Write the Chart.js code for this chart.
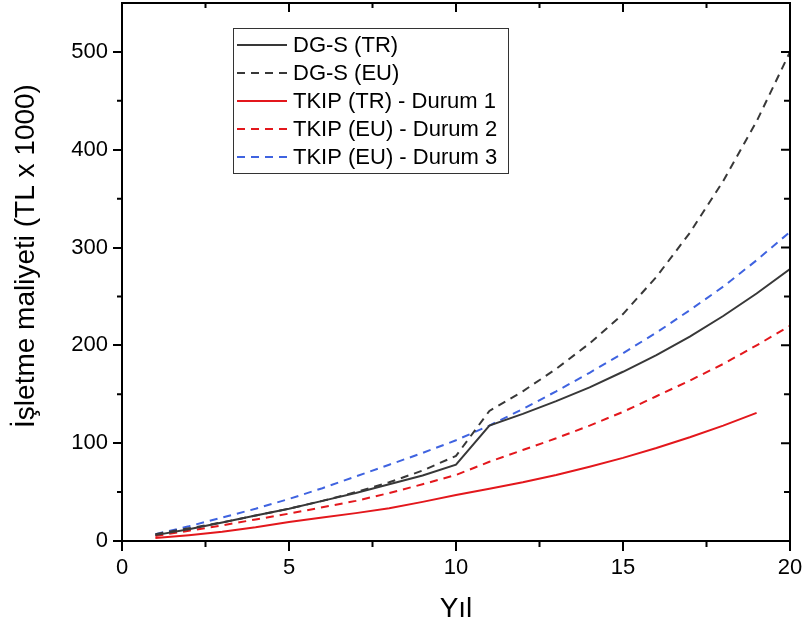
<!DOCTYPE html>
<html><head><meta charset="utf-8">
<script src="https://cdn.jsdelivr.net/npm/chart.js@4/dist/chart.umd.min.js"></script>
<style>html,body{margin:0;padding:0;background:#fff}</style>
</head><body>
<canvas id="c" width="802" height="630"></canvas>
<script>
const years = [1,2,3,4,5,6,7,8,9,10,11,12,13,14,15,16,17,18,19,20];
const dgsTR   = [6,12,19,26,33,41,49,58,67,78,118,130,143,157,173,190,209,230,253,278];
const dgsEU   = [7,13,19,26,33,41,50,60,72,87,133,153,176,202,232,270,315,368,429,500];
const tkipTR1 = [3,6,9.5,14,19.5,24,28.5,33.5,40,47,53.5,60,67.5,76,85,95,106,118,131];
const tkipEU2 = [5,10.5,16,22,28,34.5,41,49,58,67.5,81,93,105,118,132,148,164,181,200,220];
const tkipEU3 = [7,15,24,33,43,54,66,78,90,103,118,135,153,172,192,213,236,260,287,316];
const seriesNames = ['DG-S (TR)','DG-S (EU)','TKIP (TR) - Durum 1','TKIP (EU) - Durum 2','TKIP (EU) - Durum 3'];
const xTicks = [0,5,10,15,20];
const xMinor = [2.5,7.5,12.5,17.5];
const yTicks = [0,100,200,300,400,500];
const yMinor = [50,150,250,350,450];
const xTitle = 'Yıl';
const yTitle = 'İşletme maliyeti (TL x 1000)';

const GRAY = '#383838', RED = '#e3171c', BLUE = '#3f63e0';
const DASH = [8,6];
const pts = arr => arr.map((v,i)=>({x:years[i], y:v}));
const FONT = '"Liberation Sans", Arial, sans-serif';

const extras = {
  id:'extras',
  afterDraw(chart){
    const ctx = chart.ctx, a = chart.chartArea;
    const xs = chart.scales.x, ys = chart.scales.y;
    ctx.save();
    ctx.strokeStyle = '#000'; ctx.lineWidth = 2;
    ctx.beginPath();
    ctx.moveTo(a.left-1, a.top); ctx.lineTo(a.right+1, a.top);
    ctx.moveTo(a.right, a.top); ctx.lineTo(a.right, a.bottom);
    xMinor.forEach(v=>{const p=xs.getPixelForValue(v); ctx.moveTo(p,a.bottom); ctx.lineTo(p,a.bottom+6);});
    yMinor.forEach(v=>{const p=ys.getPixelForValue(v); ctx.moveTo(a.left,p); ctx.lineTo(a.left-5,p);});
    xTicks.forEach(v=>{const p=xs.getPixelForValue(v); ctx.moveTo(p,a.top); ctx.lineTo(p,a.top+9);});
    xMinor.forEach(v=>{const p=xs.getPixelForValue(v); ctx.moveTo(p,a.top); ctx.lineTo(p,a.top+5);});
    yTicks.forEach(v=>{const p=ys.getPixelForValue(v); ctx.moveTo(a.right,p); ctx.lineTo(a.right-9,p);});
    yMinor.forEach(v=>{const p=ys.getPixelForValue(v); ctx.moveTo(a.right,p); ctx.lineTo(a.right-6,p);});
    ctx.stroke();

    // y axis title
    ctx.save();
    ctx.translate(26, 256);
    ctx.rotate(-Math.PI/2);
    ctx.font = '28px ' + FONT; ctx.fillStyle = '#000';
    ctx.textAlign = 'center'; ctx.textBaseline = 'middle';
    ctx.fillText(yTitle, 0, 0);
    ctx.restore();

    // legend
    const bx = 233, by = 28, bw = 275, bh = 145;
    ctx.fillStyle = '#fff'; ctx.fillRect(bx,by,bw,bh);
    ctx.lineWidth = 1; ctx.strokeStyle = '#333';
    ctx.strokeRect(bx+0.5,by+0.5,bw,bh);
    ctx.font = '22px ' + FONT; ctx.textBaseline = 'middle'; ctx.textAlign = 'left'; ctx.fillStyle = '#000';
    chart.data.datasets.forEach((ds,i)=>{
      const y = 45 + i*28;
      ctx.strokeStyle = ds.borderColor; ctx.lineWidth = 2;
      ctx.setLineDash(ds.borderDash || []);
      ctx.beginPath(); ctx.moveTo(237,y); ctx.lineTo(287,y); ctx.stroke();
      ctx.setLineDash([]);
      ctx.fillText(ds.label, 293, y+1);
    });
    ctx.restore();
  }
};

new Chart(document.getElementById('c'), {
  type:'line',
  data:{ datasets:[
    {label:seriesNames[0], data:pts(dgsTR), borderColor:GRAY, borderWidth:2},
    {label:seriesNames[1], data:pts(dgsEU), borderColor:GRAY, borderWidth:2, borderDash:DASH},
    {label:seriesNames[2], data:pts(tkipTR1), borderColor:RED, borderWidth:2},
    {label:seriesNames[3], data:pts(tkipEU2), borderColor:RED, borderWidth:2, borderDash:DASH},
    {label:seriesNames[4], data:pts(tkipEU3), borderColor:BLUE, borderWidth:2, borderDash:DASH}
  ].map(d=>Object.assign({pointRadius:0, tension:0, fill:false}, d))},
  options:{
    responsive:false, animation:false,
    layout:{padding:{top:3,right:12,left:0,bottom:0}},
    plugins:{legend:{display:false}, tooltip:{enabled:false}},
    scales:{
      x:{type:'linear', min:0, max:20,
        afterBuildTicks:ax=>{ax.ticks = xTicks.map(v=>({value:v}));},
        afterFit:ax=>{ax.height = 89; ax.paddingLeft = 0; ax.paddingRight = 0;},
        ticks:{color:'#000', font:{family:FONT, size:22}, padding:4, maxRotation:0},
        grid:{drawOnChartArea:false, drawTicks:true, tickLength:10, color:'#000', lineWidth:2},
        border:{display:true, color:'#000', width:2},
        title:{display:true, text:xTitle, color:'#000', font:{family:FONT, size:28}, padding:{top:10}}
      },
      y:{type:'linear', min:0, max:550,
        afterBuildTicks:ax=>{ax.ticks = yTicks.map(v=>({value:v}));},
        afterFit:ax=>{ax.width = 122; ax.paddingTop = 0; ax.paddingBottom = 0;},
        ticks:{color:'#000', font:{family:FONT, size:22}, padding:5},
        grid:{drawOnChartArea:false, drawTicks:true, tickLength:9, color:'#000', lineWidth:2},
        border:{display:true, color:'#000', width:2},
        title:{display:false, text:yTitle}
      }
    }
  },
  plugins:[extras]
});
</script>
</body></html>
